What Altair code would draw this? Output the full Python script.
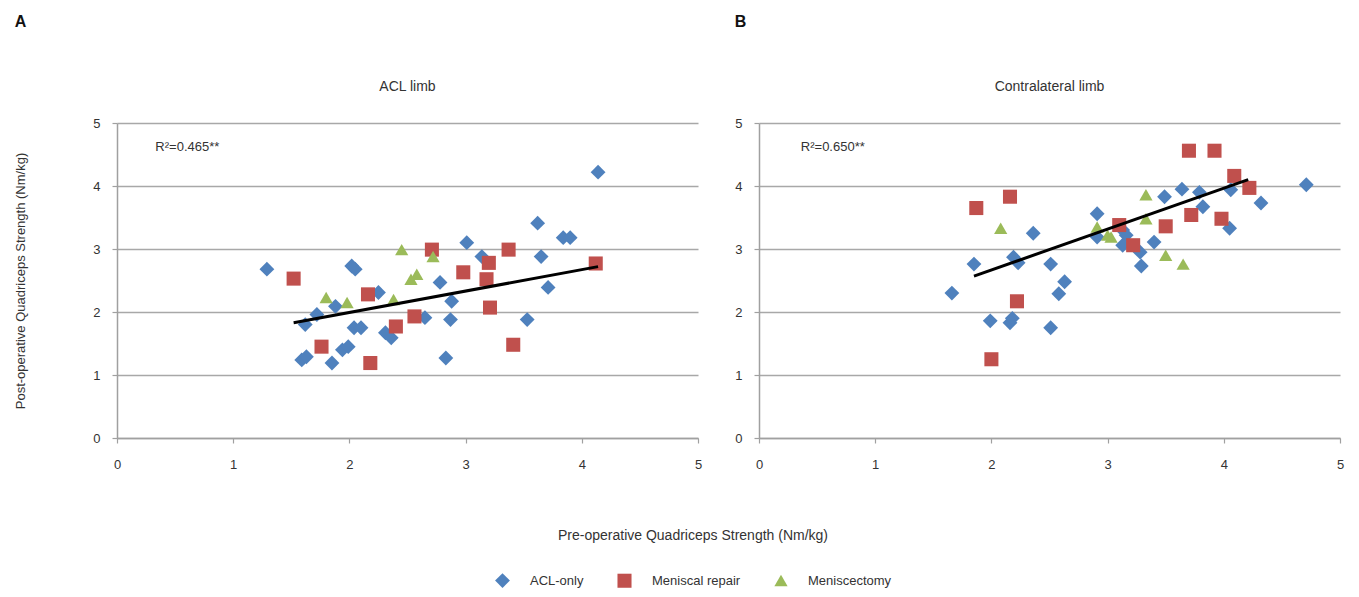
import altair as alt
import pandas as pd

GROUPS = ["ACL-only", "Meniscal repair", "Meniscectomy"]
COLORS = ["#4F81BD", "#C0504D", "#9BBB59"]
SHAPES = ["diamond", "square", "triangle-up"]
SIZES = [220, 175, 300]

# Panel A - ACL limb
a_acl_x = [1.29, 1.59, 1.63, 1.62, 1.72, 1.88, 1.85, 1.94, 1.99, 2.02, 2.05, 2.04, 2.10, 2.25,
           2.31, 2.36, 2.65, 2.78, 2.88, 2.87, 2.83, 3.01, 3.14, 3.53, 3.62, 3.65, 3.71, 3.84, 3.90, 4.14]
a_acl_y = [2.68, 1.24, 1.29, 1.80, 1.96, 2.09, 1.19, 1.40, 1.45, 2.73, 2.68, 1.75, 1.75, 2.31,
           1.67, 1.59, 1.91, 2.47, 2.17, 1.88, 1.27, 3.10, 2.88, 1.88, 3.41, 2.88, 2.39, 3.18, 3.18, 4.22]
a_rep_x = [1.52, 1.76, 2.16, 2.18, 2.40, 2.56, 2.71, 2.98, 3.20, 3.18, 3.21, 3.37, 3.41, 4.12]
a_rep_y = [2.53, 1.45, 2.28, 1.19, 1.77, 1.93, 2.99, 2.63, 2.78, 2.52, 2.07, 2.99, 1.48, 2.77]
a_men_x = [1.80, 1.98, 2.38, 2.45, 2.53, 2.58, 2.72]
a_men_y = [2.23, 2.15, 2.20, 2.99, 2.52, 2.60, 2.88]
a_trend_x = [1.52, 4.14]
a_trend_y = [1.83, 2.72]

# Panel B - Contralateral limb
b_acl_x = [1.66, 1.85, 2.36, 2.19, 2.23, 1.99, 2.16, 2.18, 2.51, 2.63, 2.58, 2.51, 2.91, 2.91,
           3.13, 3.16, 3.13, 3.28, 3.29, 3.49, 3.40, 3.64, 3.79, 3.82, 4.05, 4.06, 4.32, 4.71]
b_acl_y = [2.30, 2.76, 3.25, 2.87, 2.78, 1.86, 1.83, 1.90, 2.76, 2.48, 2.29, 1.75, 3.56, 3.19,
           3.30, 3.22, 3.06, 2.95, 2.73, 3.83, 3.11, 3.95, 3.90, 3.67, 3.33, 3.94, 3.73, 4.02]
b_rep_x = [1.87, 2.16, 2.22, 2.00, 3.10, 3.22, 3.50, 3.70, 3.72, 3.92, 3.98, 4.09, 4.22]
b_rep_y = [3.65, 3.83, 2.17, 1.25, 3.38, 3.06, 3.36, 4.56, 3.54, 4.56, 3.48, 4.16, 3.97]
b_men_x = [2.08, 2.91, 3.00, 3.03, 3.33, 3.33, 3.50, 3.65]
b_men_y = [3.33, 3.35, 3.22, 3.19, 3.86, 3.48, 2.90, 2.76]
b_trend_x = [1.85, 4.21]
b_trend_y = [2.57, 4.10]

r2_labels = ["R²=0.465**", "R²=0.650**"]
r2_x = [0.33, 0.36]
r2_y = [4.62, 4.62]
panel_titles = ["ACL limb", "Contralateral limb"]
panel_letters = ["A", "B"]
tick_values = [0, 1, 2, 3, 4, 5]

X_TITLE = "Pre-operative Quadriceps Strength (Nm/kg)"
Y_TITLE = "Post-operative Quadriceps Strength (Nm/kg)"
FONT = "Liberation Sans"


def points_df(series):
    rows = []
    for (xs, ys), g in zip(series, GROUPS):
        for xv, yv in zip(xs, ys):
            rows.append({"pre": xv, "post": yv, "group": g})
    return pd.DataFrame(rows)


def panel(series, tx, ty, idx, y_title):
    df = points_df(series)
    xenc = alt.X("pre:Q", scale=alt.Scale(domain=[0, 5]),
                 axis=alt.Axis(values=tick_values, title=None, grid=False, format="d"))
    yax = alt.Axis(values=tick_values, grid=True, format="d",
                   title=y_title if y_title else None,
                   titlePadding=65, titleFontSize=13, titleFontWeight="normal",
                   titleColor="#333")
    yenc = alt.Y("post:Q", scale=alt.Scale(domain=[0, 5]), axis=yax)
    legend = alt.Legend(orient="none", legendX=378, legendY=406, direction="horizontal",
                        title=X_TITLE, titleOrient="top", titleAnchor="middle",
                        titleLimit=1000,
                        titlePadding=30, titleFontSize=14, titleFontWeight="normal",
                        titleColor="#333", labelFontSize=13, labelColor="#333",
                        labelLimit=400,
                        symbolSize=200, columnPadding=33, labelOffset=20,
                        symbolStrokeWidth=0)
    pts = alt.Chart(df).mark_point(filled=True, opacity=1).encode(
        x=xenc, y=yenc,
        color=alt.Color("group:N", scale=alt.Scale(domain=GROUPS, range=COLORS),
                        legend=legend, title=X_TITLE),
        shape=alt.Shape("group:N", scale=alt.Scale(domain=GROUPS, range=SHAPES),
                        legend=legend, title=X_TITLE),
        size=alt.Size("group:N", scale=alt.Scale(domain=GROUPS, range=SIZES), legend=None),
    )
    trend = alt.Chart(pd.DataFrame({"pre": tx, "post": ty})).mark_line(
        color="black", strokeWidth=3).encode(x="pre:Q", y="post:Q")
    r2 = alt.Chart(pd.DataFrame({"pre": [r2_x[idx]], "post": [r2_y[idx]],
                                 "label": [r2_labels[idx]]})).mark_text(
        align="left", baseline="middle", fontSize=13, color="#333").encode(
        x="pre:Q", y="post:Q", text="label:N")
    layer = alt.layer(pts, trend, r2).properties(
        width=581, height=315,
        title=alt.TitleParams(panel_titles[idx], fontSize=14, fontWeight="normal",
                              color="#333", offset=23),
    )
    return alt.vconcat(layer, title=alt.TitleParams(
        panel_letters[idx], anchor="start", fontSize=16, fontWeight="bold",
        color="#111", offset=50))


pa = panel([(a_acl_x, a_acl_y), (a_rep_x, a_rep_y), (a_men_x, a_men_y)],
           a_trend_x, a_trend_y, 0, Y_TITLE)
pb = panel([(b_acl_x, b_acl_y), (b_rep_x, b_rep_y), (b_men_x, b_men_y)],
           b_trend_x, b_trend_y, 1, None)

chart = alt.hconcat(pa, pb, spacing=32).properties(
    padding={"left": 6, "top": 6, "right": 5, "bottom": 5}
).configure(font=FONT).configure_view(stroke=None).configure_axis(
    domainColor="#a0a0a0", domainWidth=1.5, tickColor="#a0a0a0", tickSize=5,
    tickWidth=1.2, gridColor="#a8a8a8", gridWidth=1.5, labelFontSize=13,
    labelColor="#333", labelFlush=False
).configure_axisX(labelPadding=15).configure_axisY(labelPadding=12).configure_concat(spacing=32)

chart.save("out.html", embed_options={"renderer": "svg", "actions": False})
